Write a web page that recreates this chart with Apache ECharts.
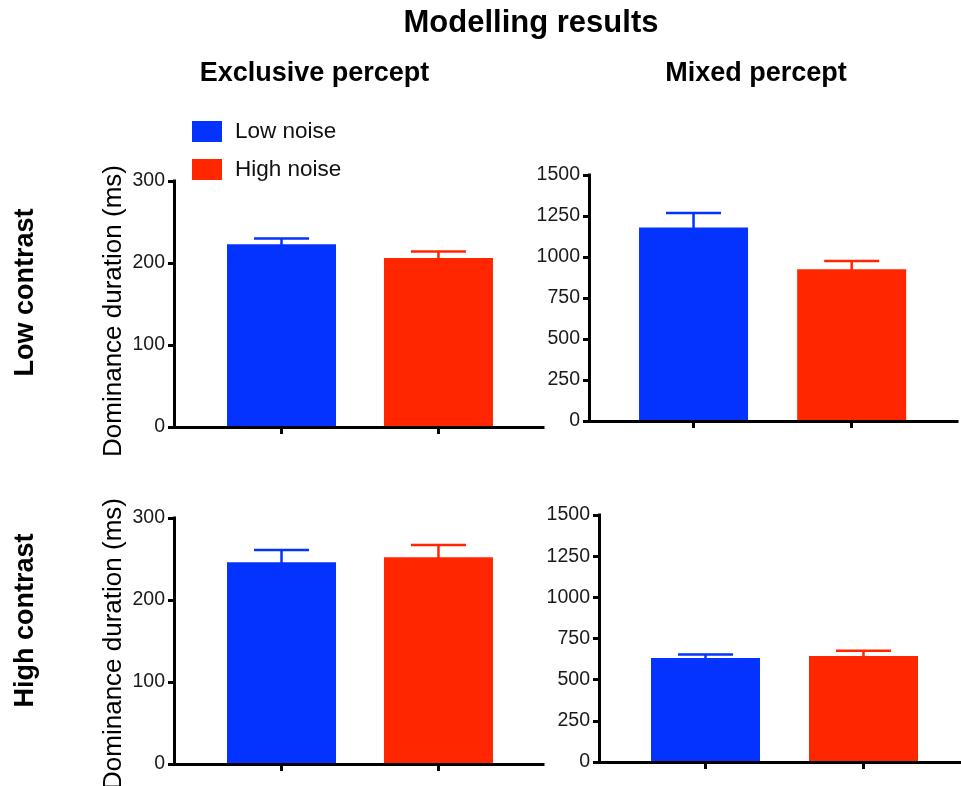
<!DOCTYPE html>
<html><head><meta charset="utf-8">
<script src="https://cdn.jsdelivr.net/npm/echarts@6/dist/echarts.min.js"></script>
<style>html,body{margin:0;padding:0;background:#fff}#c{width:961px;height:786px}</style>
</head><body><div id="c"></div><script>
const seriesNames = ['Low noise', 'High noise'];
const barColors = ['#0433FF', '#FF2600'];
const exclusiveTicks = [0, 100, 200, 300];
const mixedTicks = [0, 250, 500, 750, 1000, 1250, 1500];
const lowExclusiveMean = [223, 206];
const lowExclusiveSem = [7, 8];
const lowMixedMean = [1180, 925];
const lowMixedSem = [88, 50];
const highExclusiveMean = [246, 252];
const highExclusiveSem = [15, 15];
const highMixedMean = [632, 643];
const highMixedSem = [21, 32];
const FONT = '"Liberation Sans", Arial, Helvetica, sans-serif';

const panels = [
  {mean: lowExclusiveMean, sem: lowExclusiveSem, ticks: exclusiveTicks, grid: {left: 174, top: 181, width: 369, height: 246}, xMin: -0.685, xMax: 1.666},
  {mean: lowMixedMean, sem: lowMixedSem, ticks: mixedTicks, grid: {left: 589, top: 175, width: 368, height: 246}, xMin: -0.661, xMax: 1.666},
  {mean: highExclusiveMean, sem: highExclusiveSem, ticks: exclusiveTicks, grid: {left: 174, top: 518, width: 369, height: 246}, xMin: -0.685, xMax: 1.666},
  {mean: highMixedMean, sem: highMixedSem, ticks: mixedTicks, grid: {left: 599, top: 515, width: 362, height: 247}, xMin: -0.674, xMax: 1.617}
];

const grids = [], xAxes = [], yAxes = [], series = [];
panels.forEach((p, i) => {
  grids.push(Object.assign({containLabel: false}, p.grid));
  xAxes.push({
    gridIndex: i, type: 'value', min: p.xMin, max: p.xMax, z: 5,
    axisLine: {show: true, onZero: false, lineStyle: {color: '#000', width: 3, cap: 'square'}},
    axisTick: {show: true, customValues: [0, 1], length: 7, lineStyle: {color: '#000', width: 3}},
    axisLabel: {show: false}, splitLine: {show: false}
  });
  yAxes.push({
    gridIndex: i, type: 'value', min: p.ticks[0], max: p.ticks[p.ticks.length - 1],
    interval: p.ticks[1] - p.ticks[0], z: 5,
    axisLine: {show: true, onZero: false, lineStyle: {color: '#000', width: 3, cap: 'square'}},
    axisTick: {show: true, length: 6, lineStyle: {color: '#000', width: 3}},
    axisLabel: {color: '#1a1a1a', fontSize: 19.5, fontFamily: FONT, margin: 9, formatter: v => String(v)},
    splitLine: {show: false}
  });
  seriesNames.forEach((name, k) => {
    series.push({
      type: 'bar', name: name, xAxisIndex: i, yAxisIndex: i,
      data: [[k, p.mean[k]]], barWidth: 109, barGap: '-100%',
      itemStyle: {color: barColors[k]}, silent: true, z: 2
    });
  });
  series.push({
    type: 'custom', name: 'sem' + i, xAxisIndex: i, yAxisIndex: i, z: 3, silent: true,
    data: p.mean.map((m, k) => [k, m, m + p.sem[k]]),
    renderItem: (params, api) => {
      const x = api.value(0);
      const base = api.coord([x, api.value(1)]);
      const top = api.coord([x, api.value(2)]);
      const col = barColors[x];
      const hw = 27.5;
      return {type: 'group', children: [
        {type: 'line', shape: {x1: base[0], y1: base[1] + 2, x2: top[0], y2: top[1]}, style: {stroke: col, lineWidth: 2.5}},
        {type: 'line', shape: {x1: top[0] - hw, y1: top[1], x2: top[0] + hw, y2: top[1]}, style: {stroke: col, lineWidth: 2.5}}
      ]};
    }
  });
});

function txt(text, x, y, font, rot) {
  return {type: 'text', x: x, y: y, rotation: rot || 0,
    style: {text: text, font: font, fill: '#000', align: 'center', verticalAlign: 'middle'}};
}

const option = {
  animation: false,
  backgroundColor: '#fff',
  grid: grids, xAxis: xAxes, yAxis: yAxes, series: series,
  legend: {
    orient: 'vertical', left: 192, top: 120, padding: 0,
    itemWidth: 30, itemHeight: 21, itemGap: 15, icon: 'rect',
    data: seriesNames, selectedMode: false,
    textStyle: {fontSize: 22.5, color: '#111', fontFamily: FONT, padding: [0, 0, 0, 8]}
  },
  graphic: [
    txt('Modelling results', 531, 23, 'bold 31px ' + FONT),
    txt('Exclusive percept', 314.5, 74, 'bold 27px ' + FONT),
    txt('Mixed percept', 756, 74, 'bold 27px ' + FONT),
    txt('Low contrast', 26, 292.5, 'bold 27px ' + FONT, Math.PI / 2),
    txt('High contrast', 26, 620.5, 'bold 27px ' + FONT, Math.PI / 2),
    txt('Dominance duration (ms)', 114, 311, '26px ' + FONT, Math.PI / 2),
    txt('Dominance duration (ms)', 114, 644, '26px ' + FONT, Math.PI / 2)
  ]
};
const chart = echarts.init(document.getElementById('c'), null, {renderer: 'canvas'});
chart.setOption(option);
</script></body></html>
